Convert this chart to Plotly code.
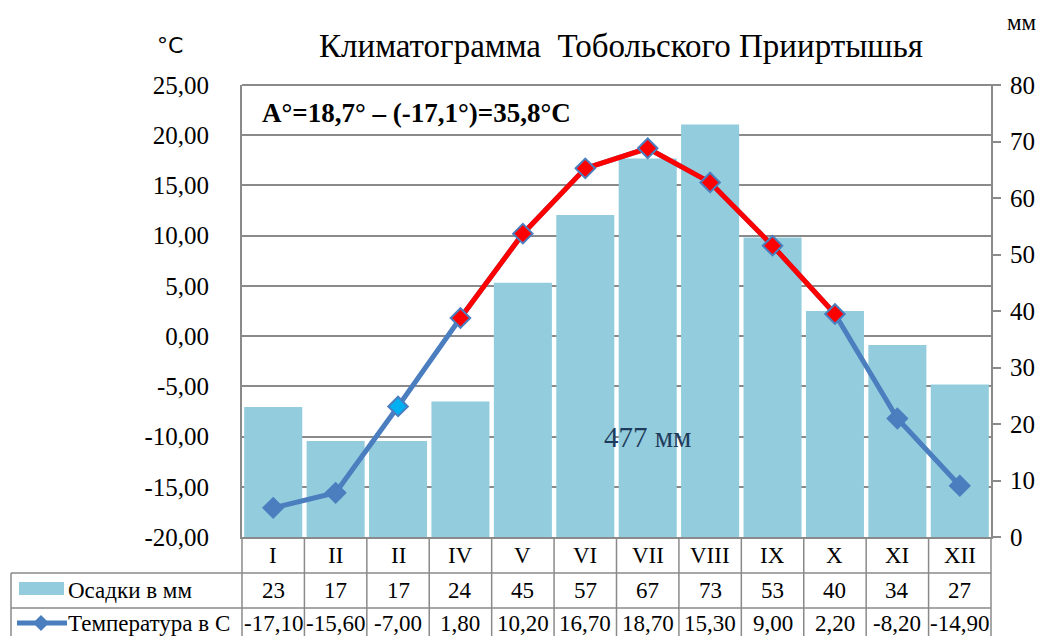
import plotly.graph_objects as go

# ---- data ----
months = ["I", "II", "II", "IV", "V", "VI", "VII", "VIII", "IX", "X", "XI", "XII"]
precip_mm = [23, 17, 17, 24, 45, 57, 67, 73, 53, 40, 34, 27]
temp_c = [-17.10, -15.60, -7.00, 1.80, 10.20, 16.70, 18.70, 15.30, 9.00, 2.20, -8.20, -14.90]
temp_ticks = [-20, -15, -10, -5, 0, 5, 10, 15, 20, 25]
precip_ticks = [0, 10, 20, 30, 40, 50, 60, 70, 80]
warm_first, warm_last = 3, 9  # IV .. X drawn in red
total_precip_label = "477 мм"
amplitude_label = "А°=18,7° – (-17,1°)=35,8°С"
title_text = "Климатограмма  Тобольского Прииртышья"


def fmt2(v):
    return f"{v:.2f}".replace(".", ",")


# ---- layout constants (pixels) ----
W, H = 1045, 636
L, R, T, B = 242, 991, 85, 537
PW, PH = R - L, B - T


def px_x(p):
    return (p - L) / PW


def px_y(p):
    return (B - p) / PH


FONT = "Liberation Serif, Times New Roman, serif"
GRID = "#8a8a8a"
BLUE = "#4a7ebf"
RED = "#ff0000"
BAR = "#93cddd"

xs = list(range(len(months)))

fig = go.Figure()

fig.add_trace(go.Bar(
    x=xs, y=precip_mm, marker=dict(color=BAR, line=dict(width=0)),
    yaxis="y", name="Осадки в мм", hoverinfo="skip",
))

fig.add_trace(go.Scatter(
    x=xs, y=temp_c, mode="lines", line=dict(color=BLUE, width=5),
    yaxis="y2", hoverinfo="skip",
))
fig.add_trace(go.Scatter(
    x=xs[warm_first:warm_last + 1], y=temp_c[warm_first:warm_last + 1],
    mode="lines", line=dict(color=RED, width=5), yaxis="y2", hoverinfo="skip",
))
marker_fill = []
for i in xs:
    if warm_first <= i <= warm_last:
        marker_fill.append(RED)
    elif i == 2:
        marker_fill.append("#00b0f0")
    else:
        marker_fill.append(BLUE)
fig.add_trace(go.Scatter(
    x=xs, y=temp_c, mode="markers",
    marker=dict(symbol="diamond", size=15, color=marker_fill,
                line=dict(color=BLUE, width=2)),
    yaxis="y2", hoverinfo="skip",
))

shapes = []
annotations = []

ROW2_TOP, ROW3_TOP = 573, 608

# table: vertical boundaries
for k in range(1, len(months)):
    shapes.append(dict(type="line", xref="x", yref="paper", x0=k - 0.5, x1=k - 0.5,
                       y0=0, y1=px_y(H + 5), line=dict(color=GRID, width=1.5)))
for xp in (0, 1):
    shapes.append(dict(type="line", xref="paper", yref="paper", x0=xp, x1=xp,
                       y0=0, y1=px_y(H + 5), line=dict(color=GRID, width=1.5)))
shapes.append(dict(type="line", xref="paper", yref="paper", x0=px_x(11), x1=px_x(11),
                   y0=px_y(ROW2_TOP), y1=px_y(H + 5), line=dict(color=GRID, width=1.5)))
for yp in (ROW2_TOP, ROW3_TOP):
    shapes.append(dict(type="line", xref="paper", yref="paper", x0=px_x(11), x1=1,
                       y0=px_y(yp), y1=px_y(yp), line=dict(color=GRID, width=1.5)))

# legend keys in table
shapes.append(dict(type="rect", xref="paper", yref="paper",
                   x0=px_x(19), x1=px_x(64), y0=px_y(595), y1=px_y(582),
                   fillcolor=BAR, line=dict(width=0)))
shapes.append(dict(type="line", xref="paper", yref="paper",
                   x0=px_x(17), x1=px_x(67), y0=px_y(623), y1=px_y(623),
                   line=dict(color=BLUE, width=5)))
cx, cy, d = 41, 623, 8
shapes.append(dict(type="path", xref="paper", yref="paper",
                   path=f"M {px_x(cx - d)} {px_y(cy)} L {px_x(cx)} {px_y(cy - d)} "
                        f"L {px_x(cx + d)} {px_y(cy)} L {px_x(cx)} {px_y(cy + d)} Z",
                   fillcolor=BLUE, line=dict(width=0)))

tf = dict(family=FONT, size=23, color="#000000")
for i, m in enumerate(months):
    annotations.append(dict(x=i, y=0, xref="x", yref="paper", text=m, showarrow=False,
                            yanchor="middle", yshift=-18, font=tf))
    annotations.append(dict(x=i, y=0, xref="x", yref="paper", text=str(precip_mm[i]),
                            showarrow=False, yanchor="middle", yshift=-53, font=tf))
    annotations.append(dict(x=i, y=0, xref="x", yref="paper", text=fmt2(temp_c[i]),
                            showarrow=False, yanchor="middle", yshift=-86, font=tf))
annotations.append(dict(x=px_x(66), y=px_y(590), xref="paper", yref="paper",
                        text="Осадки в мм", showarrow=False, xanchor="left",
                        yanchor="middle", font=tf))
annotations.append(dict(x=px_x(66), y=px_y(623), xref="paper", yref="paper",
                        text="Температура в С", showarrow=False, xanchor="left",
                        yanchor="middle", font=tf))

# texts
annotations.append(dict(x=px_x(260), y=px_y(113), xref="paper", yref="paper",
                        text=f"<b>{amplitude_label}</b>", showarrow=False,
                        xanchor="left", yanchor="middle",
                        font=dict(family=FONT, size=27, color="#000000")))
annotations.append(dict(x=6, y=-10, xref="x", yref="y2", text=total_precip_label,
                        showarrow=False, xanchor="center", yanchor="middle",
                        font=dict(family=FONT, size=29, color="#1f3b5c")))
annotations.append(dict(x=px_x(170), y=px_y(46), xref="paper", yref="paper",
                        text="°С", showarrow=False, xanchor="center", yanchor="middle",
                        font=dict(family="DejaVu Sans, sans-serif", size=22, color="#000000")))
annotations.append(dict(x=px_x(1022), y=px_y(22), xref="paper", yref="paper",
                        text="мм", showarrow=False, xanchor="center", yanchor="middle",
                        font=dict(family=FONT, size=23, color="#000000")))

fig.update_layout(
    width=W, height=H,
    margin=dict(l=L, r=W - R, t=T, b=H - B, pad=0, autoexpand=False),
    paper_bgcolor="white", plot_bgcolor="white",
    separators=", ",
    showlegend=False,
    bargap=0.07,
    title=dict(text=title_text, x=px_x(621), xref="paper", xanchor="center",
               y=1 - 45 / H, yref="container", yanchor="middle",
               font=dict(family=FONT, size=33, color="#000000")),
    xaxis=dict(range=[-0.5, len(months) - 0.5], showticklabels=False, ticks="",
               showgrid=False, zeroline=False, showline=True, linecolor=GRID,
               linewidth=1.5, fixedrange=True),
    yaxis=dict(range=[0, 80], side="right", showgrid=False, zeroline=False,
               tickmode="array", tickvals=precip_ticks,
               ticktext=[str(v) for v in precip_ticks],
               showline=True, linecolor=GRID, linewidth=2, ticks="outside",
               ticklen=8, tickwidth=2, tickcolor=GRID,
               tickfont=dict(family=FONT, size=25, color="#000000"),
               ticklabelstandoff=4),
    yaxis2=dict(range=[-20, 25], side="left", overlaying="y",
                tickmode="array", tickvals=temp_ticks,
                ticktext=[fmt2(v) for v in temp_ticks],
                showgrid=True, gridcolor=GRID, gridwidth=2, zeroline=False,
                showline=True, linecolor=GRID, linewidth=2, ticks="",
                tickfont=dict(family=FONT, size=25, color="#000000"),
                ticklabelstandoff=26),
    shapes=shapes,
    annotations=annotations,
)

# top border extends slightly past the right axis (like a tick)
fig.add_shape(type="line", xref="paper", yref="paper", x0=0, x1=px_x(999), y0=1, y1=1,
              line=dict(color=GRID, width=2))

fig.write_html("out.html",
               config={"displayModeBar": False, "staticPlot": True},
               post_script="document.body.style.margin='0px';"
                           "document.body.style.overflow='hidden';")
